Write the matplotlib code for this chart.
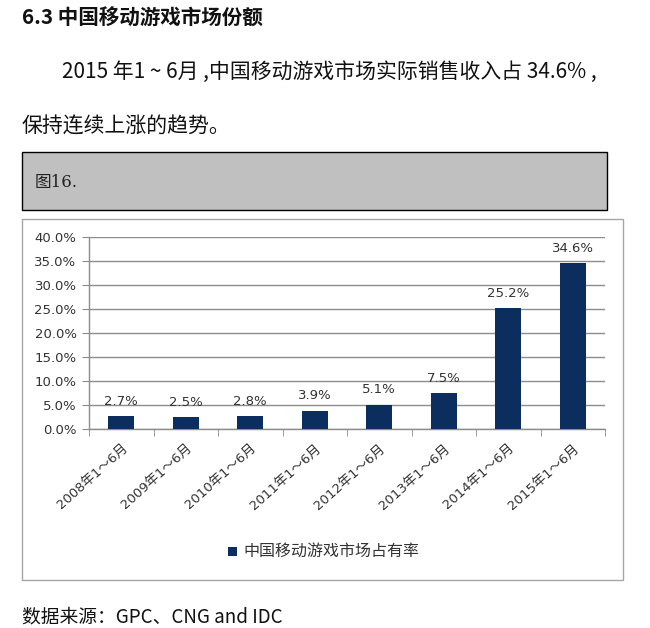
import matplotlib
matplotlib.use("Agg")
from matplotlib import pyplot as plt
from matplotlib.patches import Rectangle
from matplotlib.ticker import FixedLocator

plt.rcParams['font.family'] = ['DejaVu Sans', 'Noto Sans CJK SC']

# Data
kategorie = ['2008年1～6月', '2009年1～6月', '2010年1～6月', '2011年1～6月',
             '2012年1～6月', '2013年1～6月', '2014年1～6月', '2015年1～6月']
podiel = [2.7, 2.5, 2.8, 3.9, 5.1, 7.5, 25.2, 34.6]
y_ticky = [0, 5, 10, 15, 20, 25, 30, 35, 40]
legenda = '中国移动游戏市场占有率'

W, H = 650, 628
fig = plt.figure(figsize=(W / 100, H / 100), dpi=100)
fig.patch.set_facecolor('white')


def fx(px):
    return px / W


def fy(py):
    return 1 - py / H


cjk = ['Noto Sans CJK SC', 'DejaVu Sans']

# Document text around the chart
fig.text(fx(22), fy(18), '6.3 中国移动游戏市场份额', family=cjk, fontsize=14.8,
         fontweight='bold', va='center', ha='left', color='#111111')
fig.text(fx(62), fy(72), '2015 年1 ~ 6月 ,中国移动游戏市场实际销售收入占 34.6% ,',
         family=cjk, fontsize=15, va='center', ha='left', color='#111111')
fig.text(fx(22), fy(127), '保持连续上涨的趋势。', family=cjk, fontsize=15,
         va='center', ha='left', color='#111111')

# Gray caption box
fig.patches.append(Rectangle((fx(22), fy(210)), fx(607) - fx(22), fy(152) - fy(210),
                             transform=fig.transFigure, facecolor='#c0c0c0',
                             edgecolor='black', linewidth=1.0, zorder=0))
fig.text(fx(35), fy(183), '图16.', family=['DejaVu Serif', 'Noto Sans CJK SC'],
         fontsize=12, va='center', ha='left', color='#222222')

# Chart frame
fig.patches.append(Rectangle((fx(22), fy(580)), fx(623) - fx(22), fy(219) - fy(580),
                             transform=fig.transFigure, facecolor='white',
                             edgecolor='#a6a6a6', linewidth=1.0, zorder=0))

# Plot area
ax = fig.add_axes([fx(89), fy(429.3), fx(605) - fx(89), fy(237.3) - fy(429.3)])
ax.set_zorder(2)
ax.set_facecolor('none')
x = list(range(len(kategorie)))
ax.bar(x, podiel, width=0.4, color='#0c2e5e', zorder=3)
for xi, v in zip(x, podiel):
    ax.annotate(f'{v:.1f}%', (xi, v), xytext=(0, 6), textcoords='offset points',
                ha='center', va='bottom', fontsize=9.5, color='#333333')

ax.set_xlim(-0.5, len(kategorie) - 0.5)
ax.set_ylim(0, 40)
ax.set_yticks(y_ticky)
ax.set_yticklabels([f'{t:.1f}%' for t in y_ticky], fontsize=9.5, color='#333333')
ax.grid(axis='y', color='#8c8c8c', linewidth=1.0, zorder=0)

ax.set_xticks(x)
ax.set_xticklabels(kategorie, rotation=42, ha='right', rotation_mode='anchor',
                   fontsize=9.5, color='#333333')
ax.xaxis.set_minor_locator(FixedLocator([i + 0.5 for i in range(-1, len(kategorie))]))
ax.tick_params(axis='x', which='major', length=0, pad=9)
ax.tick_params(axis='x', which='minor', length=5, color='#8c8c8c', direction='out')
ax.tick_params(axis='y', length=5, color='#8c8c8c', pad=4)

for s in ['top', 'right']:
    ax.spines[s].set_visible(False)
for s in ['left', 'bottom']:
    ax.spines[s].set_color('#8c8c8c')
    ax.spines[s].set_linewidth(1.0)

# Legend
fig.patches.append(Rectangle((fx(228), fy(556)), fx(9), 9 / H,
                             transform=fig.transFigure, facecolor='#0c2e5e', zorder=1))
fig.text(fx(243), fy(551), legenda, family=cjk, fontsize=11.5, va='center',
         ha='left', color='#333333')

# Source
fig.text(fx(22), fy(617), '数据来源：GPC、CNG and IDC', family=cjk, fontsize=13.5,
         va='center', ha='left', color='#111111')

fig.savefig('out.png', dpi=100, facecolor='white')
